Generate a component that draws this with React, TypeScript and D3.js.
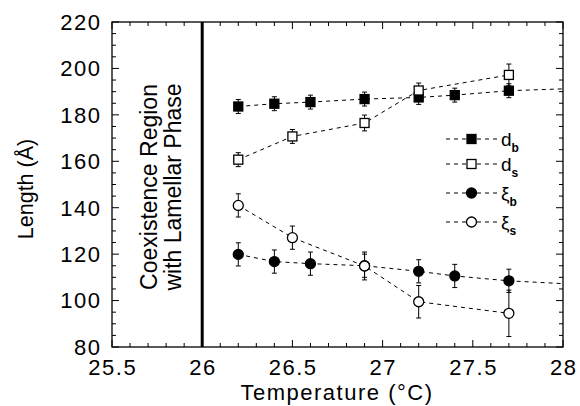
import React from "react";
import * as d3 from "d3";

const W = 580;
const H = 406;

const xTicks = [25.5, 26, 26.5, 27, 27.5, 28];
const yTicks = [80, 100, 120, 140, 160, 180, 200, 220];

const dbT = [26.2, 26.4, 26.6, 26.9, 27.2, 27.4, 27.7];
const dbV = [183.6, 184.8, 185.5, 186.8, 187.5, 188.5, 190.4];
const dbE = [3, 3, 3, 3, 3, 3, 3];
const dbLineEnd = [28, 191.2];

const dsT = [26.2, 26.5, 26.9, 27.2, 27.7];
const dsV = [160.7, 170.7, 176.5, 190.5, 197.2];
const dsE = [3, 3, 3.4, 3.2, 4.7];

const xbT = [26.2, 26.4, 26.6, 26.9, 27.2, 27.4, 27.7];
const xbV = [119.9, 116.8, 115.9, 115.0, 112.6, 110.6, 108.5];
const xbE = [5, 5, 5, 5, 5, 5, 5];
const xbLineEnd = [28, 107.3];

const xsT = [26.2, 26.5, 26.9, 27.2, 27.7];
const xsV = [141, 127.1, 114.9, 99.5, 94.5];
const xsE = [5, 5, 6, 7, 10];

const phaseBoundary = 26;

const FONT = "'Liberation Sans', Arial, Helvetica, sans-serif";

export default function App() {
  const x = d3.scaleLinear().domain([25.5, 28]).range([112, 563]);
  const y = d3.scaleLinear().domain([80, 220]).range([347, 22]);
  const [x0, x1] = x.range();
  const [y0, y1] = y.range();

  const line = d3
    .line<[number, number]>()
    .x((d) => x(d[0]))
    .y((d) => y(d[1]));

  const zip = (t: number[], v: number[]) => t.map((tt, i) => [tt, v[i]] as [number, number]);

  const dbPts = zip(dbT, dbV);
  const dsPts = zip(dsT, dsV);
  const xbPts = zip(xbT, xbV);
  const xsPts = zip(xsT, xsV);

  const xMinor = d3.range(25.5, 28.0001, 0.1).map((v) => +v.toFixed(2));
  const yMinor = d3.range(80, 220.0001, 5);
  const isMajorX = (v: number) => Math.abs(v * 2 - Math.round(v * 2)) < 1e-6;
  const isMajorY = (v: number) => v % 20 === 0;

  const errBars = (t: number[], v: number[], e: number[], key: string) =>
    t.map((tt, i) => {
      const cx = x(tt);
      const ya = y(v[i] + e[i]);
      const yb = y(v[i] - e[i]);
      return (
        <g key={key + i} stroke="#000" strokeWidth={1}>
          <line x1={cx} x2={cx} y1={ya} y2={yb} />
          <line x1={cx - 2.5} x2={cx + 2.5} y1={ya} y2={ya} />
          <line x1={cx - 2.5} x2={cx + 2.5} y1={yb} y2={yb} />
        </g>
      );
    });

  const square = (cx: number, cy: number, filled: boolean, key: string) => (
    <rect
      key={key}
      x={cx - 4.5}
      y={cy - 4.5}
      width={9}
      height={9}
      fill={filled ? "#000" : "#fff"}
      stroke="#000"
      strokeWidth={1.3}
    />
  );
  const circle = (cx: number, cy: number, filled: boolean, key: string) => (
    <circle key={key} cx={cx} cy={cy} r={5} fill={filled ? "#000" : "#fff"} stroke="#000" strokeWidth={1.3} />
  );

  const legendRows = [
    { y: 139, main: "d", sub: "b", kind: "sq", filled: true },
    { y: 164, main: "d", sub: "s", kind: "sq", filled: false },
    { y: 193, main: "ξ", sub: "b", kind: "ci", filled: true },
    { y: 222, main: "ξ", sub: "s", kind: "ci", filled: false },
  ];

  return (
    <svg
      width={W}
      height={H}
      style={{ position: "absolute", left: 0, top: 0, background: "#fff" }}
      fontFamily={FONT}
    >
      <rect x={0} y={0} width={W} height={H} fill="#fff" />

      {/* ticks */}
      <g stroke="#000" strokeWidth={1}>
        {xMinor.map((v) => {
          const len = isMajorX(v) ? 7 : 4;
          return (
            <g key={"xt" + v}>
              <line x1={x(v)} x2={x(v)} y1={y0} y2={y0 - len} />
              <line x1={x(v)} x2={x(v)} y1={y1} y2={y1 + len} />
            </g>
          );
        })}
        {yMinor.map((v) => {
          const len = isMajorY(v) ? 7 : 4;
          return (
            <g key={"yt" + v}>
              <line x1={x0} x2={x0 + len} y1={y(v)} y2={y(v)} />
              <line x1={x1} x2={x1 - len} y1={y(v)} y2={y(v)} />
            </g>
          );
        })}
      </g>

      {/* frame */}
      <rect x={x0} y={y1} width={x1 - x0} height={y0 - y1} fill="none" stroke="#000" strokeWidth={1.3} />

      {/* phase boundary */}
      <line x1={x(phaseBoundary)} x2={x(phaseBoundary)} y1={y1} y2={y0} stroke="#000" strokeWidth={3} />

      {/* coexistence text */}
      <g fontSize={23} fill="#000" textAnchor="middle">
        <text transform={`translate(157,187) rotate(-90)`}>Coexistence Region</text>
        <text transform={`translate(181,187) rotate(-90)`}>with Lamellar Phase</text>
      </g>

      {/* lines */}
      <g fill="none" stroke="#000" strokeWidth={1} strokeDasharray="4,4">
        <path d={line([...dbPts, dbLineEnd as [number, number]]) || ""} />
        <path d={line(dsPts) || ""} />
        <path d={line([...xbPts, xbLineEnd as [number, number]]) || ""} />
        <path d={line(xsPts) || ""} />
      </g>

      {/* error bars */}
      {errBars(dbT, dbV, dbE, "edb")}
      {errBars(dsT, dsV, dsE, "eds")}
      {errBars(xbT, xbV, xbE, "exb")}
      {errBars(xsT, xsV, xsE, "exs")}

      {/* markers */}
      {dbPts.map((p, i) => square(x(p[0]), y(p[1]), true, "mdb" + i))}
      {dsPts.map((p, i) => square(x(p[0]), y(p[1]), false, "mds" + i))}
      {xbPts.map((p, i) => circle(x(p[0]), y(p[1]), true, "mxb" + i))}
      {xsPts.map((p, i) => circle(x(p[0]), y(p[1]), false, "mxs" + i))}

      {/* legend */}
      {legendRows.map((r, i) => (
        <g key={"lg" + i}>
          <line x1={446} x2={466} y1={r.y} y2={r.y} stroke="#000" strokeDasharray="4,4" />
          <line x1={477} x2={497} y1={r.y} y2={r.y} stroke="#000" strokeDasharray="4,4" />
          {r.kind === "sq" ? square(471.5, r.y, r.filled, "ls" + i) : circle(471.5, r.y, r.filled, "lc" + i)}
          <text x={501} y={r.y + 7} fontSize={19} fill="#000">
            {r.main}
            <tspan fontSize={12} dy={6} fontWeight="bold">
              {r.sub}
            </tspan>
          </text>
        </g>
      ))}

      {/* tick labels */}
      <g fontSize={22} fill="#000" letterSpacing={1.5}>
        {yTicks.map((v) => (
          <text key={"yl" + v} x={101.5} y={y(v)} dy="0.36em" textAnchor="end">
            {v}
          </text>
        ))}
        {xTicks.map((v) => (
          <text key={"xl" + v} x={x(v) + 0.75} y={375} textAnchor="middle">
            {v}
          </text>
        ))}
      </g>

      {/* axis titles */}
      <text x={337} y={400} fontSize={22} letterSpacing={1.5} textAnchor="middle" fill="#000">
        Temperature (°C)
      </text>
      <text transform={`translate(33,189) rotate(-90)`} fontSize={21.5} textAnchor="middle" fill="#000">
        Length (Å)
      </text>
    </svg>
  );
}
